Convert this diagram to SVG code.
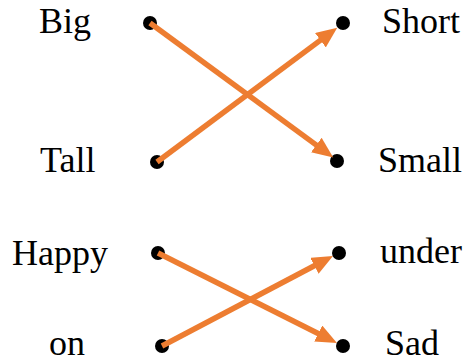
<svg xmlns="http://www.w3.org/2000/svg" width="467" height="363" viewBox="0 0 467 363">
<style>
text{font-family:"Liberation Serif","Times New Roman",serif;font-size:36px;fill:#000}
.dot{fill:#000}
.conn line{stroke:#ED7D31;stroke-width:5.5;marker-end:url(#ah)}
</style>
<defs>
<marker id="ah" markerUnits="userSpaceOnUse" markerWidth="22" markerHeight="18" refX="1" refY="9" orient="auto">
<path d="M0,0 L21,9 L0,18 z" fill="#ED7D31"/>
</marker>
</defs>
<rect width="467" height="363" fill="#fff"/>
<g id="big"><text x="39" y="33">Big</text><circle class="dot" cx="150" cy="23" r="7"/></g>
<g id="tall"><text x="40" y="172">Tall</text><circle class="dot" cx="157" cy="162" r="7"/></g>
<g id="short"><text x="382" y="33">Short</text><circle class="dot" cx="343" cy="23" r="7"/></g>
<g id="small"><text x="378" y="172">Small</text><circle class="dot" cx="337" cy="161" r="7"/></g>
<g id="happy"><text x="12" y="265">Happy</text><circle class="dot" cx="158" cy="253" r="7"/></g>
<g id="on"><text x="49" y="355">on</text><circle class="dot" cx="162" cy="346" r="7"/></g>
<g id="under"><text x="380" y="263">under</text><circle class="dot" cx="339" cy="253" r="7"/></g>
<g id="sad"><text x="385" y="355">Sad</text><circle class="dot" cx="343" cy="346" r="7"/></g>
<g id="connectors" class="conn">
<line x1="150" y1="23" x2="317.1" y2="145.6"/>
<line x1="157" y1="162" x2="321.2" y2="39.6"/>
<line x1="158" y1="253" x2="319.1" y2="334.0"/>
<line x1="162" y1="346" x2="315.3" y2="265.3"/>
</g>
</svg>
